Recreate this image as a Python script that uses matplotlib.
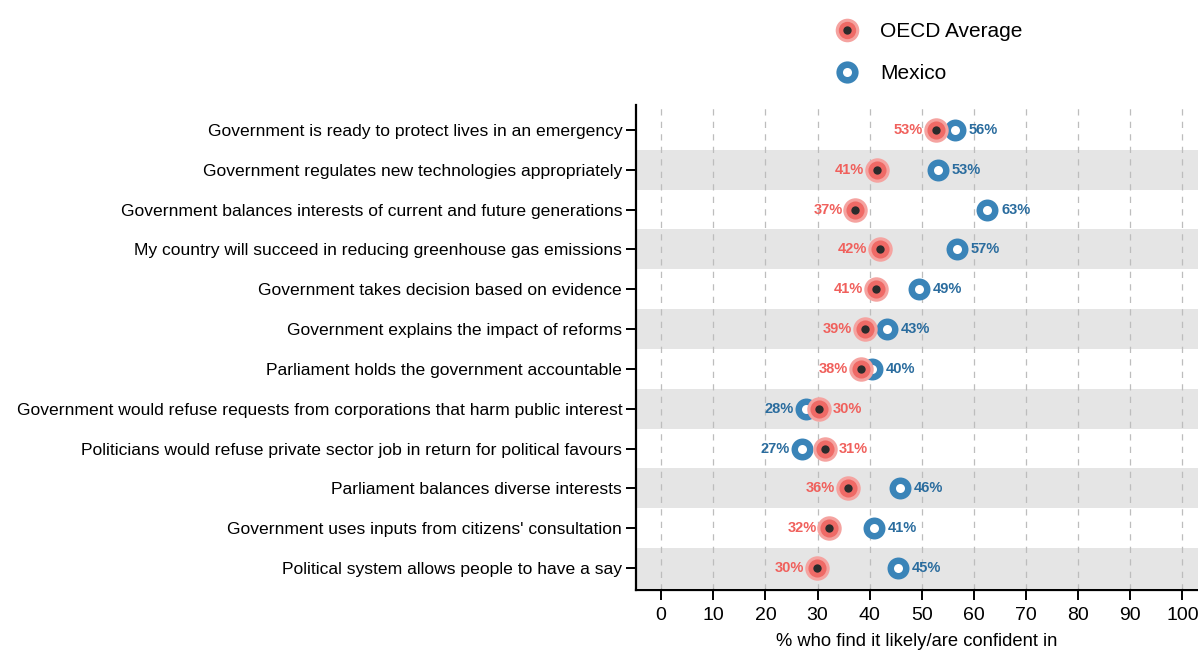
import matplotlib
matplotlib.use("Agg")
import matplotlib.pyplot as plt
from matplotlib.lines import Line2D

plt.rcParams['font.family'] = ['Liberation Sans', 'DejaVu Sans']

# ---------------------  Data  --------------------------
statements = [
    "Government is ready to protect lives in an emergency",
    "Government regulates new technologies appropriately",
    "Government balances interests of current and future generations",
    "My country will succeed in reducing greenhouse gas emissions",
    "Government takes decision based on evidence",
    "Government explains the impact of reforms",
    "Parliament holds the government accountable",
    "Government would refuse requests from corporations that harm public interest",
    "Politicians would refuse private sector job in return for political favours",
    "Parliament balances diverse interests",
    "Government uses inputs from citizens' consultation",
    "Political system allows people to have a say",
]
oecd = [52.7, 41.4, 37.2, 42.0, 41.2, 39.1, 38.3, 30.3, 31.4, 35.8, 32.2, 29.9]
mexico = [56.4, 53.1, 62.6, 56.7, 49.4, 43.3, 40.4, 27.8, 27.0, 45.8, 40.8, 45.4]
xticks = [0, 10, 20, 30, 40, 50, 60, 70, 80, 90, 100]

# colours
RED_HALO = '#f5a3a0'
RED_MID = '#ef6a66'
RED_TXT = '#f0605c'
DARK = '#2b2b2b'
BLUE = '#3a84b8'
BLUE_TXT = '#2a6c9e'
BAND = '#e5e5e5'

fig = plt.figure(figsize=(11.98, 6.53), dpi=100)
ax = fig.add_axes([0.531, 0.0965, 0.469, 0.7425])

n = len(statements)
ys = list(range(n))

# alternating shaded bands
for i in ys:
    if i % 2 == 1:
        ax.axhspan(i - 0.5, i + 0.5, color=BAND, zorder=0, lw=0)

for t in xticks:
    ax.axvline(t, color='#bdbdbd', ls=(0, (5, 5)), lw=0.9, zorder=1)

# Mexico markers (ring)
ax.scatter(mexico, ys, s=250, color=BLUE, zorder=3, lw=0)
ax.scatter(mexico, ys, s=42, color='white', zorder=4, lw=0)

# OECD markers (halo + dark centre)
ax.scatter(oecd, ys, s=310, color=RED_HALO, zorder=5, lw=0)
ax.scatter(oecd, ys, s=170, color=RED_MID, zorder=6, lw=0)
ax.scatter(oecd, ys, s=36, color=DARK, zorder=7, lw=0)

# value labels: lower value on the left, higher on the right
lab_kw = dict(textcoords='offset points', va='center', fontsize=10.5, fontweight='bold', zorder=8)
for y, o, m in zip(ys, oecd, mexico):
    if o <= m:
        ax.annotate("{:.0f}%".format(o), (o, y), xytext=(-9, 0), ha='right', color=RED_TXT, **lab_kw)
        ax.annotate("{:.0f}%".format(m), (m, y), xytext=(10, 0), ha='left', color=BLUE_TXT, **lab_kw)
    else:
        ax.annotate("{:.0f}%".format(m), (m, y), xytext=(-9, 0), ha='right', color=BLUE_TXT, **lab_kw)
        ax.annotate("{:.0f}%".format(o), (o, y), xytext=(10, 0), ha='left', color=RED_TXT, **lab_kw)

ax.set_xlim(-4.8, 103)
ax.set_ylim(n - 0.45, -0.62)
ax.set_yticks(ys)
ax.set_yticklabels(statements, fontsize=12.6)
ax.set_xticks(xticks)
ax.set_xticklabels([str(t) for t in xticks], fontsize=14)
ax.tick_params(axis='both', direction='out', length=7, width=1.4, color='black', pad=3)
ax.tick_params(axis='x', pad=5)
ax.set_xlabel("% who find it likely/are confident in", fontsize=13.2, labelpad=7)

for side in ['top', 'right']:
    ax.spines[side].set_visible(False)
for side in ['left', 'bottom']:
    ax.spines[side].set_linewidth(1.6)

# legend
h_oecd = (Line2D([], [], marker='o', ls='', markersize=17, color=RED_HALO, markeredgewidth=0),
          Line2D([], [], marker='o', ls='', markersize=12.5, color=RED_MID, markeredgewidth=0),
          Line2D([], [], marker='o', ls='', markersize=6, color=DARK, markeredgewidth=0))
h_mex = (Line2D([], [], marker='o', ls='', markersize=16, color=BLUE, markeredgewidth=0),
         Line2D([], [], marker='o', ls='', markersize=6.5, color='white', markeredgewidth=0))
fig.legend([h_oecd, h_mex], ["OECD Average", "Mexico"], loc='upper left',
           bbox_to_anchor=(0.681, 0.995), frameon=False, fontsize=15,
           handlelength=1.2, handletextpad=1.0, labelspacing=1.1)

fig.savefig("out.png", dpi=100)
